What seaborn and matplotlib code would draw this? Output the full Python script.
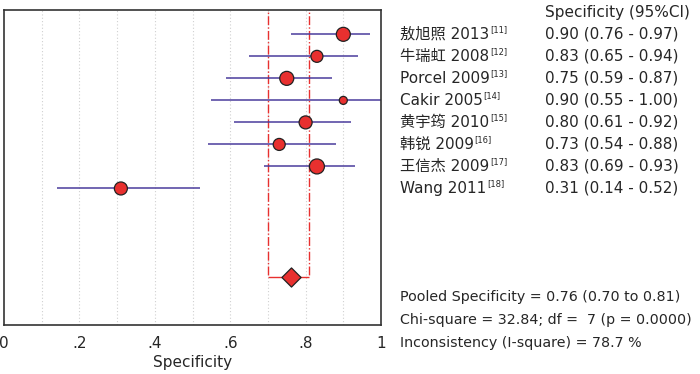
import matplotlib
matplotlib.use("Agg")
import matplotlib.pyplot as plt
import numpy as np
import pandas as pd
import seaborn as sns

# study data
studies = ["敖旭照 2013", "牛瑞虹 2008", "Porcel 2009", "Cakir 2005",
           "黄宇筠 2010", "韩锐 2009", "王信杰 2009", "Wang 2011"]
refs = ["[11]", "[12]", "[13]", "[14]", "[15]", "[16]", "[17]", "[18]"]
spec = [0.90, 0.83, 0.75, 0.90, 0.80, 0.73, 0.83, 0.31]
lo = [0.76, 0.65, 0.59, 0.55, 0.61, 0.54, 0.69, 0.14]
hi = [0.97, 0.94, 0.87, 1.00, 0.92, 0.88, 0.93, 0.52]
weight = [14, 12, 14, 8, 13, 12, 15, 13]   # marker diameter (study weight)

pooled = 0.76
pooled_lo = 0.70
pooled_hi = 0.81
stats_lines = ["Pooled Specificity = 0.76 (0.70 to 0.81)",
               "Chi-square = 32.84; df =  7 (p = 0.0000)",
               "Inconsistency (I-square) = 78.7 %"]
xticks = [0, 0.2, 0.4, 0.6, 0.8, 1.0]
xtick_labels = ["0", ".2", ".4", ".6", ".8", "1"]

sns.set_style("white")
plt.rcParams['font.family'] = ['DejaVu Sans', 'Noto Sans CJK SC']

df = pd.DataFrame({"study": studies, "spec": spec, "lo": lo, "hi": hi,
                   "row": np.arange(len(studies)),
                   "area": (np.array(weight) * 0.72) ** 2})
pooled_row = 11

fig = plt.figure(figsize=(7, 3.74), dpi=100)
ax = fig.add_axes([0.0057, 0.131, 0.5386, 0.842])

# light dotted grid
for gx in np.arange(0.1, 1.0, 0.1):
    ax.axvline(gx, color="#d0d0d0", lw=0.8, ls=(0, (1, 2)), zorder=0)

# pooled CI box
red = "#e8302f"
ax.vlines([pooled_lo, pooled_hi], -1.5, pooled_row, color=red, lw=1.0,
          ls="-.", zorder=1)
ax.hlines(pooled_row, pooled_lo, pooled_hi, color=red, lw=1.0, zorder=1)

# confidence intervals
ax.hlines(df["row"], df["lo"], df["hi"], color="#4a3c9c", lw=1.1, zorder=2)

amin, amax = df["area"].min(), df["area"].max()
sns.scatterplot(data=df, x="spec", y="row", size="area",
                sizes=(amin, amax), size_norm=(amin, amax),
                marker="o", color=red, edgecolor="#222222", linewidth=0.9,
                legend=False, ax=ax, zorder=3)

ax.scatter([pooled], [pooled_row], marker="D", s=95, color=red,
           edgecolor="#222222", linewidth=0.9, zorder=4)

ax.set_xlim(0, 1)
ax.set_ylim(13.2, -1.1)
ax.set_yticks([])
ax.set_xticks(xticks)
ax.set_xticklabels(xtick_labels, fontsize=11)
ax.tick_params(axis="x", length=0, pad=8)
ax.set_xlabel("Specificity", fontsize=11, labelpad=3)
ax.set_ylabel("")
for s in ax.spines.values():
    s.set_color("#333333")
    s.set_linewidth(1.2)

# right-hand text columns
fs = 11
fig.text(545 / 700, 1 - 12 / 374, "Specificity (95%CI)", fontsize=fs,
         va="center", ha="left")
labels = []
for i, row in df.iterrows():
    yfig = ax.transData.transform((0, row["row"]))[1] / fig.dpi / 3.74
    t = fig.text(400 / 700, yfig, row["study"], fontsize=fs, va="center",
                 ha="left")
    labels.append((t, yfig))
    fig.text(545 / 700, yfig,
             f"{row['spec']:.2f} ({row['lo']:.2f} - {row['hi']:.2f})",
             fontsize=fs, va="center", ha="left")

fig.canvas.draw()
renderer = fig.canvas.get_renderer()
for (t, yfig), r in zip(labels, refs):
    bb = t.get_window_extent(renderer)
    fig.text(bb.x1 / 700 + 0.001, yfig + 0.013, r, fontsize=6,
             va="center", ha="left")

for k, line in enumerate(stats_lines):
    fig.text(400 / 700, 1 - (297 + 23 * k) / 374, line, fontsize=10.3,
             va="center", ha="left")

fig.savefig("out.png", dpi=100)
